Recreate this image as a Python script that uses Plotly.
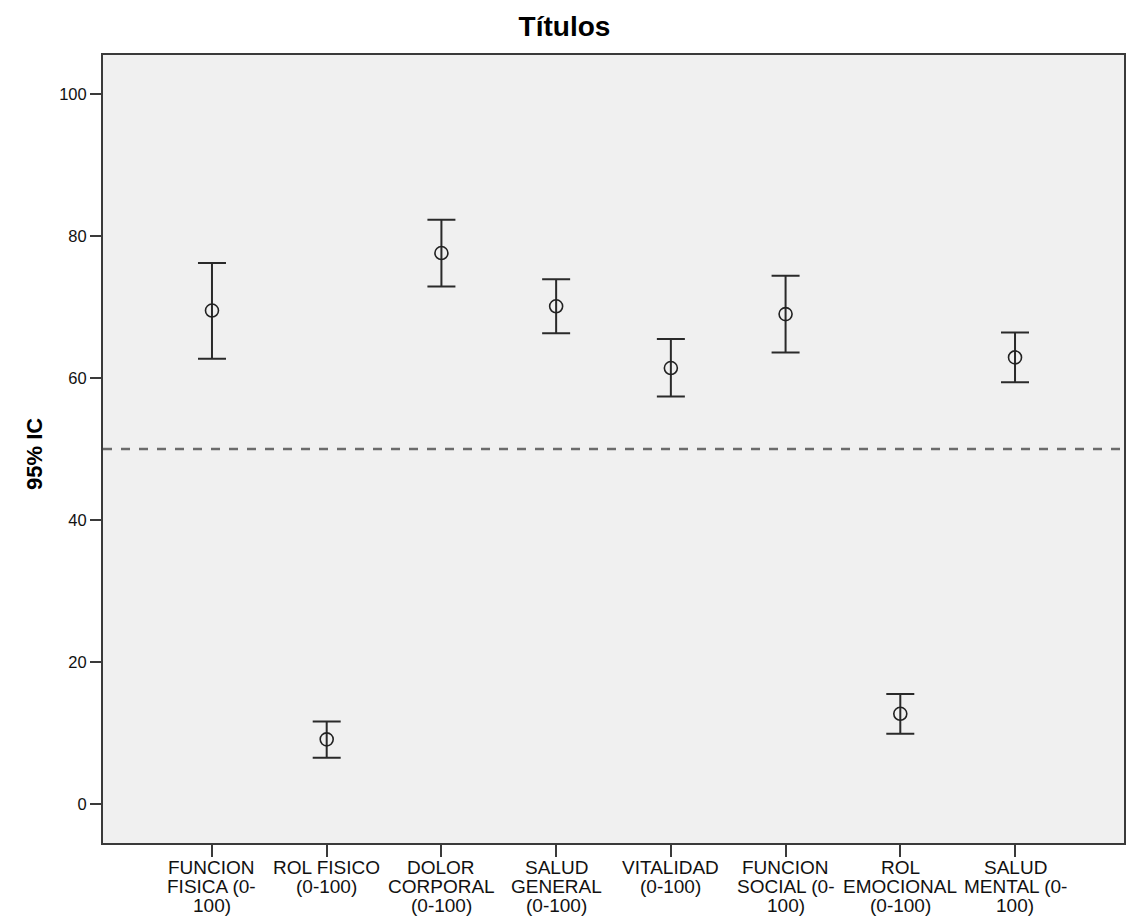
import plotly.graph_objects as go

categories = [
    "FUNCION<br>FISICA (0-<br>100)",
    "ROL FISICO<br>(0-100)",
    "DOLOR<br>CORPORAL<br>(0-100)",
    "SALUD<br>GENERAL<br>(0-100)",
    "VITALIDAD<br>(0-100)",
    "FUNCION<br>SOCIAL (0-<br>100)",
    "ROL<br>EMOCIONAL<br>(0-100)",
    "SALUD<br>MENTAL (0-<br>100)",
]
means = [69.5, 9.1, 77.6, 70.1, 61.4, 69.0, 12.7, 62.9]
upper = [76.2, 11.6, 82.3, 73.9, 65.5, 74.4, 15.5, 66.4]
lower = [62.7, 6.5, 72.9, 66.3, 57.4, 63.6, 9.9, 59.4]
reference_value = 50
y_ticks = [0, 20, 40, 60, 80, 100]

x_idx = list(range(len(categories)))
err_plus = [u - m for u, m in zip(upper, means)]
err_minus = [m - l for m, l in zip(means, lower)]

font_family = "Liberation Sans, Arial, sans-serif"

fig = go.Figure()
fig.add_trace(go.Scatter(
    x=x_idx, y=means, mode="markers",
    marker=dict(symbol="circle-open", size=13, color="#222222", line=dict(width=1.6)),
    error_y=dict(type="data", array=err_plus, arrayminus=err_minus,
                 color="#2a2a2a", thickness=2, width=14),
    showlegend=False, hoverinfo="skip",
))

fig.add_shape(type="line", xref="paper", x0=0, x1=1, yref="y",
              y0=reference_value, y1=reference_value,
              line=dict(color="#6b6b6b", width=2.5, dash="9px,9px"))

# category labels, one annotation per line for SPSS-like tight line spacing
for i, lab in enumerate(categories):
    for j, line in enumerate(lab.split("<br>")):
        fig.add_annotation(
            x=i, xref="x", y=0, yref="paper", yanchor="middle", xanchor="center",
            text=line, showarrow=False, yshift=-(24 + j * 19),
            font=dict(size=19, family=font_family, color="#111111"),
        )

# y-axis title
fig.add_annotation(
    x=0, xref="paper", y=0.5, yref="paper", xanchor="center", yanchor="middle",
    xshift=-69, yshift=-5, text="<b>95% IC</b>", textangle=-90, showarrow=False,
    font=dict(size=22, family=font_family, color="#000000"),
)

fig.update_layout(
    width=1129, height=918,
    margin=dict(l=103, r=3, t=55, b=75),
    paper_bgcolor="white", plot_bgcolor="#f0f0f0",
    font=dict(family=font_family, color="#111111", size=16),
    title=dict(text="<b>Títulos</b>", x=0.5, xanchor="center",
               y=1 - 26 / 918, yanchor="middle",
               font=dict(size=28, family=font_family, color="#000000")),
)
fig.update_xaxes(
    range=[-0.95, 7.95], tickmode="array", tickvals=x_idx, showticklabels=False,
    showgrid=False, zeroline=False, showline=True, linecolor="#3a3a3a", linewidth=2,
    mirror=True, ticks="outside", ticklen=12, tickwidth=2, tickcolor="#3a3a3a",
)
fig.update_yaxes(
    range=[-5.5, 105.5], tickmode="array", tickvals=y_ticks,
    showgrid=False, zeroline=False, showline=True, linecolor="#3a3a3a", linewidth=2,
    mirror=True, ticks="outside", ticklen=11, tickwidth=2, tickcolor="#3a3a3a",
    tickfont=dict(size=16.5, color="#111111"),
)

fig.write_html(
    "out.html",
    config={"displayModeBar": False},
    post_script="document.body.style.margin='0';document.body.style.overflow='hidden';",
)
